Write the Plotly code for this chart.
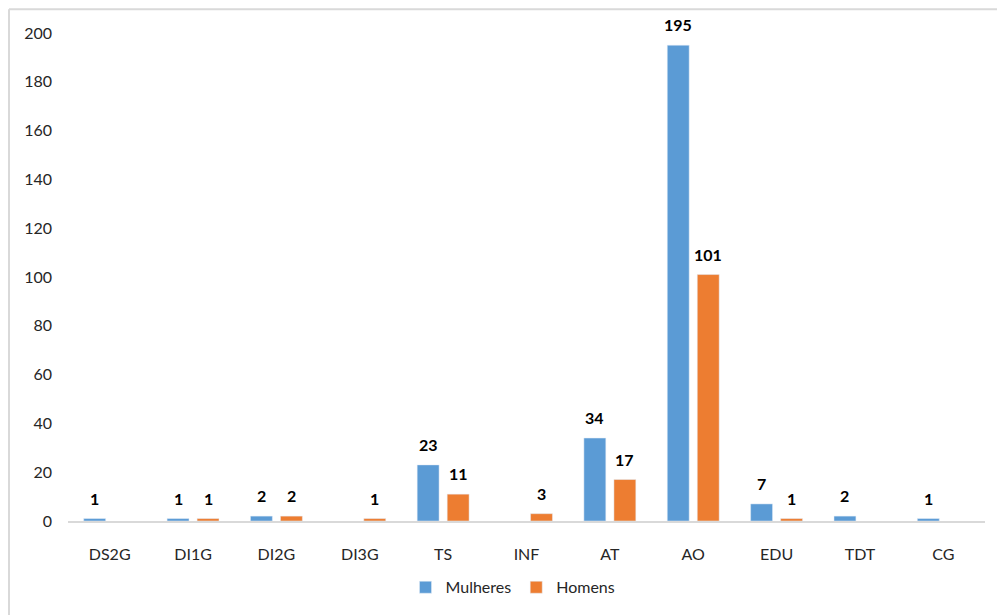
import plotly.graph_objects as go

categories = ["DS2G", "DI1G", "DI2G", "DI3G", "TS", "INF", "AT", "AO", "EDU", "TDT", "CG"]
mulheres = [1, 1, 2, None, 23, None, 34, 195, 7, 2, 1]
homens = [None, 1, 2, 1, 11, 3, 17, 101, 1, None, None]
y_ticks = [0, 20, 40, 60, 80, 100, 120, 140, 160, 180, 200]

FONT = "Lato, 'Open Sans', sans-serif"
W, H = 997, 616
L, R, T, B = 68, 12, 33, 90
pw = W - L - R
ph = H - T - B
BARGAP = 0.28

fig = go.Figure()
fig.add_trace(go.Bar(name="Mulheres", x=categories, y=mulheres, marker_color="#5b9bd5"))
fig.add_trace(go.Bar(name="Homens", x=categories, y=homens, marker_color="#ed7d31"))

# value labels placed above each bar, through the axes' data coordinates
annotations = []
slot = (1 - BARGAP) / 2
for series, off in ((mulheres, -slot / 2), (homens, slot / 2)):
    for i, v in enumerate(series):
        if v is None:
            continue
        annotations.append(dict(
            x=i + off, y=v, xref="x", yref="y", text=str(v), showarrow=False,
            yanchor="bottom", yshift=9,
            font=dict(family=FONT, size=16, color="#000000", weight="bold"),
        ))

def px_to_paper_x(px):
    return (px - L) / pw

def px_to_paper_y(py):
    return (H - B - py) / ph

fig.update_layout(
    width=W, height=H,
    margin=dict(l=L, r=R, t=T, b=B),
    paper_bgcolor="white", plot_bgcolor="white",
    barmode="group", bargap=BARGAP, bargroupgap=0.27,
    font=dict(family=FONT, size=16, color="#262626"),
    showlegend=True,
    legend=dict(orientation="h", x=px_to_paper_x(513), xanchor="center",
                y=px_to_paper_y(593), yanchor="middle",
                font=dict(family=FONT, size=16, color="#262626"),
                tracegroupgap=0),
    xaxis=dict(showline=True, linecolor="#d9d9d9", linewidth=1.5,
               ticks="", showgrid=False, ticklabelstandoff=18,
               tickfont=dict(size=16, color="#262626")),
    yaxis=dict(range=[0, 200], tickvals=y_ticks, showgrid=False, zeroline=False,
               showline=False, ticks="", ticklabelstandoff=15,
               tickfont=dict(size=16, color="#262626")),
    annotations=annotations,
    shapes=[
        dict(type="line", xref="paper", yref="paper",
             x0=px_to_paper_x(9), x1=px_to_paper_x(W + 5),
             y0=px_to_paper_y(9), y1=px_to_paper_y(9),
             line=dict(color="#d9d9d9", width=2), layer="below"),
        dict(type="line", xref="paper", yref="paper",
             x0=px_to_paper_x(9), x1=px_to_paper_x(9),
             y0=px_to_paper_y(9), y1=px_to_paper_y(H + 5),
             line=dict(color="#d9d9d9", width=2), layer="below"),
    ],
)

fig.write_html(
    "out.html",
    config={"displayModeBar": False},
    post_script="document.documentElement.style.overflow='hidden';"
                "document.body.style.margin='0';document.body.style.overflow='hidden';",
)
